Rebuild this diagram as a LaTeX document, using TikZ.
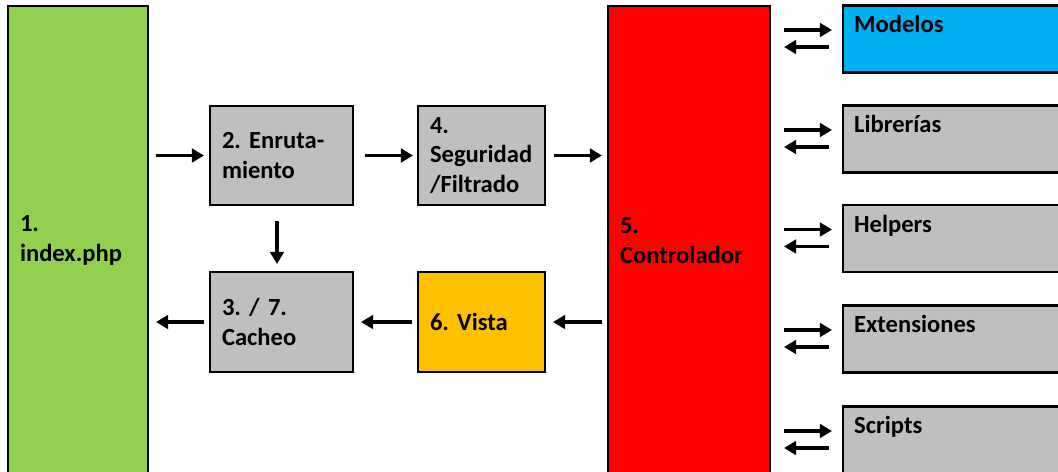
\documentclass[tikz,border=0pt]{standalone}
\usepackage{fontspec}
\setmainfont{Carlito}
\usetikzlibrary{arrows.meta,calc}

\definecolor{verde}{HTML}{92D050}
\definecolor{rojo}{HTML}{FF0000}
\definecolor{naranja}{HTML}{FFC000}
\definecolor{azul}{HTML}{00B0F0}
\definecolor{gris}{HTML}{BFBFBF}

\frenchspacing

\begin{document}
\begin{tikzpicture}[x=0.02cm, y=-0.02cm,
    main node/.style={draw=black, line width=1.2pt, align=left, inner xsep=0.24cm, inner ysep=0pt,
        font=\bfseries\fontsize{14}{17}\selectfont},
    side node/.style={draw=black, line width=1.2pt, fill=gris, minimum width=4.5cm, minimum height=1.34cm,
        label={[anchor=north west, xshift=0.12cm, yshift=-0.1cm, font=\bfseries\fontsize{14}{17}\selectfont]north west:#1}},
    flecha/.style={line width=2pt, -{Triangle[length=0.24cm, width=0.27cm]}}]

    \path[use as bounding box, clip] (0,0) rectangle (1058,471);

    % columnas grandes
    \node[main node, fill=verde, text width=2.32cm, minimum height=9.38cm] at (78,240.5) (idx) {1.\\index.php};
    \node[main node, fill=rojo, text width=2.76cm, minimum height=9.38cm] at (689,240.5) (ctl) {5.\\Controlador};

    % flujo central
    \node[main node, fill=gris, text width=2.38cm, minimum height=1.98cm] at (281.5,155.5) (enr) {2. Enruta-\\miento};
    \node[main node, fill=gris, text width=2.06cm, minimum height=1.98cm] at (481.5,155.5) (seg) {4.\\Seguridad\\/Filtrado};
    \node[main node, fill=gris, text width=2.38cm, minimum height=2cm] at (281.5,322) (cac) {3. / 7.\\Cacheo};
    \node[main node, fill=naranja, text width=2.06cm, minimum height=2cm] at (481.5,322) (vis) {6. Vista};

    % recursos del controlador
    \node[side node=Modelos, fill=azul] at (955.5,39) (mod) {};
    \node[side node=Librerías] at (955.5,139) (lib) {};
    \node[side node=Helpers] at (955.5,238.5) (hlp) {};
    \node[side node=Extensiones] at (955.5,339) (ext) {};
    \node[side node=Scripts] at (955.5,440) (scr) {};

    \draw[flecha, shorten <=0.14cm, shorten >=0.1cm] (idx.east |- enr.west) -- (enr.west);
    \draw[flecha, shorten <=0.22cm, shorten >=0.08cm] (enr.east) -- (seg.west);
    \draw[flecha, shorten <=0.16cm, shorten >=0.1cm] (seg.east) -- (seg.east -| ctl.west);
    \draw[flecha, shorten <=0.3cm, shorten >=0.14cm] ([xshift=-0.09cm]enr.south) -- ([xshift=-0.09cm]cac.north);
    \draw[flecha, shorten <=0.1cm, shorten >=0.14cm] (ctl.west |- vis.east) -- (vis.east);
    \draw[flecha, shorten <=0.1cm, shorten >=0.14cm] (vis.west) -- (cac.east);
    \draw[flecha, shorten <=0.1cm, shorten >=0.14cm] (cac.west) -- (cac.west -| idx.east);

    \foreach \m in {mod,lib,hlp,ext,scr} {
        \draw[flecha, shorten <=0.26cm, shorten >=0.2cm] ($(ctl.east |- \m.west)+(0,-9)$) -- ($(\m.west)+(0,-9)$);
        \draw[flecha, shorten <=0.26cm, shorten >=0.26cm] ($(\m.west)+(0,8)$) -- ($(ctl.east |- \m.west)+(0,8)$);
    }
\end{tikzpicture}
\end{document}
